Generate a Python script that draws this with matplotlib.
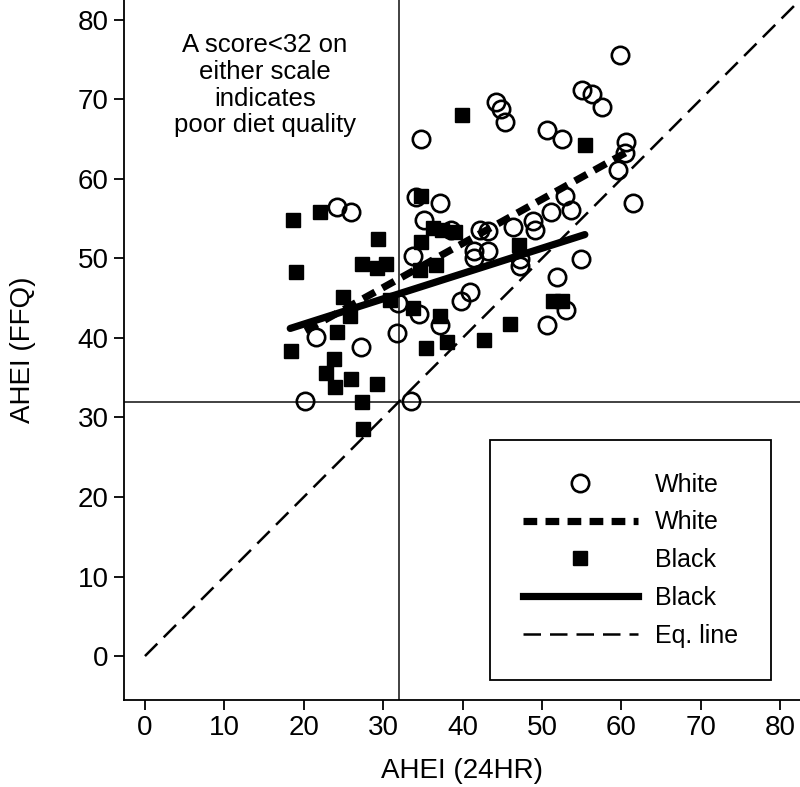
import numpy as np
import matplotlib
matplotlib.use("Agg")
import matplotlib.pyplot as plt
from matplotlib.lines import Line2D

plt.rcParams['font.family'] = ['Liberation Sans', 'DejaVu Sans']

# White participants (open circles)
white_x = [59.8, 55.0, 56.3, 57.5, 44.2, 44.9, 45.3, 34.8, 50.6, 52.5,
           60.6, 60.5, 59.6, 61.5, 34.1, 37.2, 52.9, 53.7, 51.2, 24.2,
           25.9, 35.1, 33.8, 38.6, 42.2, 43.2, 46.3, 48.9, 49.1, 41.4,
           41.4, 43.2, 47.2, 47.2, 54.9, 51.9, 50.6, 53.0, 39.8, 41.0,
           37.1, 34.5, 31.9, 31.8, 33.5, 20.2, 21.5, 27.2]
white_y = [75.6, 71.2, 70.7, 69.0, 69.7, 68.8, 67.2, 65.0, 66.2, 65.0,
           64.7, 63.2, 61.1, 57.0, 57.7, 57.0, 57.8, 56.1, 55.8, 56.5,
           55.8, 54.8, 50.3, 53.6, 53.6, 53.4, 54.0, 54.7, 53.6, 50.9,
           50.0, 50.9, 49.0, 49.9, 49.9, 47.7, 41.6, 43.5, 44.6, 45.8,
           41.6, 43.0, 44.4, 40.6, 32.1, 32.1, 40.1, 38.9]

# Black participants (filled squares)
black_x = [18.7, 22.1, 29.4, 19.0, 27.3, 29.2, 30.4, 34.8, 34.8, 34.6,
           36.6, 24.9, 30.9, 33.7, 25.8, 24.2, 37.2, 35.4, 38.0, 23.8,
           22.8, 25.9, 23.9, 29.2, 27.3, 27.5, 18.4, 42.7, 46.0, 51.4,
           52.5, 47.1, 39.9, 55.4, 36.3, 37.4, 39.0]
black_y = [54.8, 55.9, 52.5, 48.3, 49.3, 48.8, 49.3, 57.9, 52.1, 48.6,
           49.2, 45.1, 44.8, 43.8, 42.7, 40.7, 42.7, 38.8, 39.5, 37.3,
           35.6, 34.9, 33.8, 34.2, 31.9, 28.5, 38.3, 39.7, 41.8, 44.6,
           44.6, 51.7, 68.1, 64.3, 53.8, 53.6, 53.3]

# fitted lines (end points)
white_fit_x = [20.2, 61.1]
white_fit_y = [40.9, 63.6]
black_fit_x = [18.3, 55.4]
black_fit_y = [41.2, 53.0]
eq_x = [0, 82]
eq_y = [0, 82]

cutoff = 32

fig = plt.figure(figsize=(8, 7.87), dpi=100)
ax = fig.add_axes([0.155, 0.1105, 0.845, 0.8895])

ax.axvline(cutoff, color='#333333', lw=1.3, zorder=1)
ax.axhline(cutoff, color='#333333', lw=1.3, zorder=1)

ax.plot(eq_x, eq_y, color='black', lw=1.8, dashes=(7, 3.6), zorder=2)
ax.plot(black_x, black_y, 's', ms=10.5, color='black', zorder=3)
ax.plot(white_x, white_y, 'o', ms=12.5, mfc='none', mec='black', mew=1.9, zorder=3)
ax.plot(white_fit_x, white_fit_y, color='black', lw=5.2, dashes=(1.9, 1.15),
        solid_capstyle='butt', zorder=4)
ax.plot(black_fit_x, black_fit_y, color='black', lw=5.2, solid_capstyle='round', zorder=4)

ax.text(15.1, 78.3, "A score<32 on\neither scale\nindicates\npoor diet quality",
        ha='center', va='top', fontsize=18.5, linespacing=1.14)

ax.set_xlim(-2.64, 82.5)
ax.set_ylim(-5.53, 82.5)
ax.set_xticks(np.arange(0, 81, 10))
ax.set_yticks(np.arange(0, 81, 10))
for s in ['top', 'right']:
    ax.spines[s].set_visible(False)
for s in ['left', 'bottom']:
    ax.spines[s].set_linewidth(1.3)
ax.tick_params(direction='out', length=7, width=1.3, labelsize=20, pad=4)
ax.set_xlabel("AHEI (24HR)", fontsize=20, labelpad=12)
ax.set_ylabel("AHEI (FFQ)", fontsize=20, labelpad=30)

handles = [
    Line2D([], [], ls='none', marker='o', ms=12.5, mfc='none', mec='black', mew=1.9),
    Line2D([], [], color='black', lw=5.2, dashes=(1.9, 1.15)),
    Line2D([], [], ls='none', marker='s', ms=10.5, color='black'),
    Line2D([], [], color='black', lw=5.2),
    Line2D([], [], color='black', lw=1.8, dashes=(7, 3.6)),
]
labels = ["White", "White", "Black", "Black", "Eq. line"]
leg = ax.legend(handles, labels, loc='upper left',
                bbox_to_anchor=(490 / 800, 1 - 440 / 787), bbox_transform=fig.transFigure,
                borderaxespad=0, fontsize=18, handlelength=4.6, handletextpad=0.7,
                borderpad=1.3, labelspacing=0.55, fancybox=False, edgecolor='black',
                framealpha=1)
leg.get_frame().set_linewidth(1.3)

fig.savefig("out.png", dpi=100)
